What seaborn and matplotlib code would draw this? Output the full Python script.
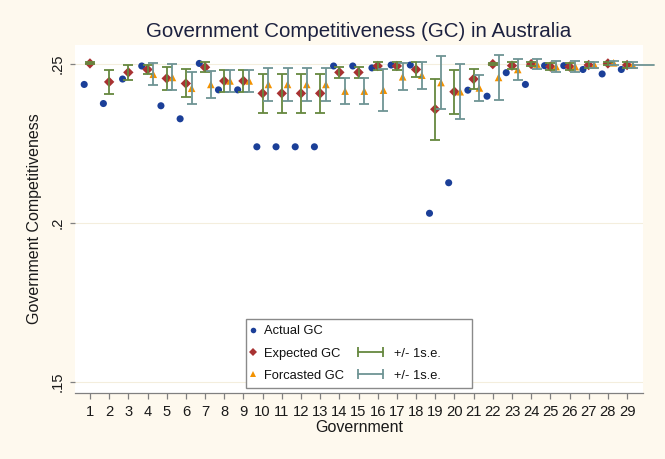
import numpy as np
import pandas as pd
import seaborn as sns
import matplotlib.pyplot as plt
from matplotlib.lines import Line2D
from matplotlib.patches import Rectangle
from matplotlib.legend_handler import HandlerBase
from matplotlib.ticker import FuncFormatter

# ---------------------------- Data ----------------------------
nan = np.nan
government = list(range(1, 30))
actual_gc = [0.2436, 0.2376, 0.2453, 0.2494, 0.2369, 0.2328, 0.2502, 0.2419, 0.2419,
             0.2240, 0.2240, 0.2240, 0.2240, 0.2494, 0.2494, 0.2488, 0.2497, 0.2497,
             0.2031, 0.2127, 0.2418, 0.2399, 0.2473, 0.2436, 0.2495, 0.2495, 0.2483,
             0.2469, 0.2483]
expected_gc = [0.2502, 0.2444, 0.2474, 0.2483, 0.2455, 0.2439, 0.2490, 0.2447, 0.2447,
               0.2408, 0.2408, 0.2408, 0.2408, 0.2474, 0.2474, 0.2494, 0.2494, 0.2483,
               0.2358, 0.2413, 0.2453, 0.2500, 0.2495, 0.2500, 0.2492, 0.2492, 0.2497,
               0.2502, 0.2497]
expected_se = [0.0003, 0.0038, 0.0024, 0.0014, 0.0036, 0.0044, 0.0016, 0.0034, 0.0034,
               0.0062, 0.0062, 0.0062, 0.0062, 0.0018, 0.0018, 0.0013, 0.0012, 0.0025,
               0.0096, 0.0069, 0.0032, 0.0004, 0.0012, 0.0005, 0.0012, 0.0012, 0.0008,
               0.0005, 0.0008]
forecast_gc = [nan, nan, nan, 0.2468, 0.2458, 0.2424, 0.2436, 0.2447, 0.2447,
               0.2436, 0.2436, 0.2436, 0.2436, 0.2415, 0.2415, 0.2418, 0.2460, 0.2465,
               0.2442, 0.2413, 0.2425, 0.2458, 0.2483, 0.2500, 0.2492, 0.2492, 0.2497,
               0.2504, 0.2497]
forecast_se = [nan, nan, nan, 0.0034, 0.0041, 0.0050, 0.0043, 0.0034, 0.0034,
               0.0053, 0.0053, 0.0053, 0.0053, 0.0042, 0.0042, 0.0067, 0.0042, 0.0043,
               0.0082, 0.0086, 0.0042, 0.0072, 0.0034, 0.0015, 0.0018, 0.0018, 0.0009,
               0.0006, 0.0008]
y_ticks = [0.15, 0.2, 0.25]

df = pd.DataFrame({
    'Government': government,
    'Actual': actual_gc,
    'Expected': expected_gc,
    'Expected_se': expected_se,
    'Forecast': forecast_gc,
    'Forecast_se': forecast_se,
})
fc = df.dropna(subset=['Forecast'])

# ---------------------------- Style ----------------------------
BG = '#FEF9EE'
BLUE = '#1B3F98'
RED = '#A83232'
ORANGE = '#F39200'
GREEN = '#66883F'
TEAL = '#6E9494'
GREY = '#808080'

sns.set_theme(style="white")
plt.rcParams['font.family'] = ['Liberation Sans', 'DejaVu Sans']

fig = plt.figure(figsize=(6.65, 4.59), dpi=100, facecolor=BG)
ax = fig.add_axes([75 / 665, 66 / 459, 568 / 665, 348 / 459])
ax.set_facecolor('white')

# ---------------------------- Markers ----------------------------
sns.scatterplot(x=df['Government'] - 0.3, y=df['Actual'], marker='o', s=26,
                color=BLUE, edgecolor='none', ax=ax, zorder=2, legend=False)
sns.scatterplot(x=df['Government'], y=df['Expected'], marker='D', s=28,
                color=RED, edgecolor='none', ax=ax, zorder=2, legend=False)
sns.scatterplot(x=fc['Government'] + 0.3, y=fc['Forecast'], marker='^', s=30,
                color=ORANGE, edgecolor='none', ax=ax, zorder=2, legend=False)

# ---------------------------- Error bars ----------------------------
ax.errorbar(df['Government'], df['Expected'], yerr=df['Expected_se'], fmt='none',
            ecolor=GREEN, elinewidth=1.3, capsize=3.3, capthick=1.3, zorder=3)
ax.errorbar(fc['Government'] + 0.3, fc['Forecast'], yerr=fc['Forecast_se'], fmt='none',
            ecolor=TEAL, elinewidth=1.3, capsize=3.3, capthick=1.3, zorder=3)
# stray line running off the right edge at the last government
last = fc.iloc[-1]
ax.plot([last['Government'] + 0.3, last['Government'] + 1.4], [last['Forecast']] * 2,
        color=TEAL, lw=1.3, clip_on=False, zorder=3)

# ---------------------------- Axes ----------------------------
ax.set_xlim(0.22, 29.83)
ax.set_ylim(0.1466, 0.256)
ax.set_xticks(government)
ax.set_yticks(y_ticks)
ax.yaxis.set_major_formatter(FuncFormatter(lambda v, p: f'{v:g}'.lstrip('0')))
ax.grid(axis='y', color='#F4EEDD', lw=0.8)
ax.set_axisbelow(True)

for side in ['top', 'right', 'left']:
    ax.spines[side].set_visible(False)
ax.spines['bottom'].set_color(GREY)
ax.spines['bottom'].set_linewidth(0.9)

ax.tick_params(axis='x', bottom=True, length=4.3, width=0.9, color=GREY,
               labelsize=10.6, labelcolor='#1a1a1a', pad=4)
ax.tick_params(axis='y', left=True, length=3.6, width=0.9, color=GREY,
               labelsize=10.6, labelcolor='#1a1a1a', pad=4, labelrotation=90)
for lab in ax.get_yticklabels():
    lab.set_va('center')

ax.set_xlabel('Government', fontsize=11.5, color='#1a1a1a', labelpad=1)
ax.set_ylabel('Government Competitiveness', fontsize=11.5, color='#1a1a1a', labelpad=6)
ax.set_title('Government Competitiveness (GC) in Australia', fontsize=14.8,
             color='#1d2240', pad=6)


# ---------------------------- Legend ----------------------------
class LeftMarker(HandlerBase):
    def create_artists(self, legend, orig_handle, xdescent, ydescent, width, height,
                       fontsize, trans):
        m = Line2D([0.1 * fontsize - xdescent], [height / 2 - ydescent], ls='none',
                   marker=orig_handle.get_marker(), color=orig_handle.get_color(),
                   ms=orig_handle.get_markersize(), mew=0, transform=trans)
        return [m]


class CapLine(HandlerBase):
    def create_artists(self, legend, orig_handle, xdescent, ydescent, width, height,
                       fontsize, trans):
        y = height / 2 - ydescent
        x1 = -xdescent + width - 0.8 * fontsize
        x0 = x1 - 1.95 * fontsize
        line = Line2D([x0, x1], [y, y], color=orig_handle.get_color(), lw=1.3,
                      marker='|', ms=7, mew=1.3, transform=trans)
        return [line]


h_act = Line2D([], [], ls='none', marker='o', color=BLUE, ms=4)
h_exp = Line2D([], [], ls='none', marker='D', color=RED, ms=4.5)
h_fc = Line2D([], [], ls='none', marker='^', color=ORANGE, ms=5)
h_blank = Rectangle((0, 0), 1, 1, visible=False)
h_green = Line2D([], [], color=GREEN)
h_teal = Line2D([], [], color=TEAL)

leg = ax.legend([h_act, h_exp, h_fc, h_blank, h_green, h_teal],
                ['Actual GC', 'Expected GC', 'Forcasted GC', '',
                 '+/- 1s.e.       ', '+/- 1s.e.       '],
                handler_map={h_act: LeftMarker(), h_exp: LeftMarker(), h_fc: LeftMarker(),
                             h_green: CapLine(), h_teal: CapLine()},
                ncol=2, loc='lower center', bbox_to_anchor=(0.5, 0.014),
                fontsize=9.3, handlelength=0.9, handletextpad=0.05, columnspacing=2.87,
                borderpad=0.5, labelspacing=0.78, frameon=True, fancybox=False,
                edgecolor='#8a8a8a', framealpha=1, borderaxespad=0)
leg.get_frame().set_linewidth(1.0)
for t in leg.get_texts():
    t.set_color('#111111')

fig.savefig('out.png', dpi=100, facecolor=BG)
